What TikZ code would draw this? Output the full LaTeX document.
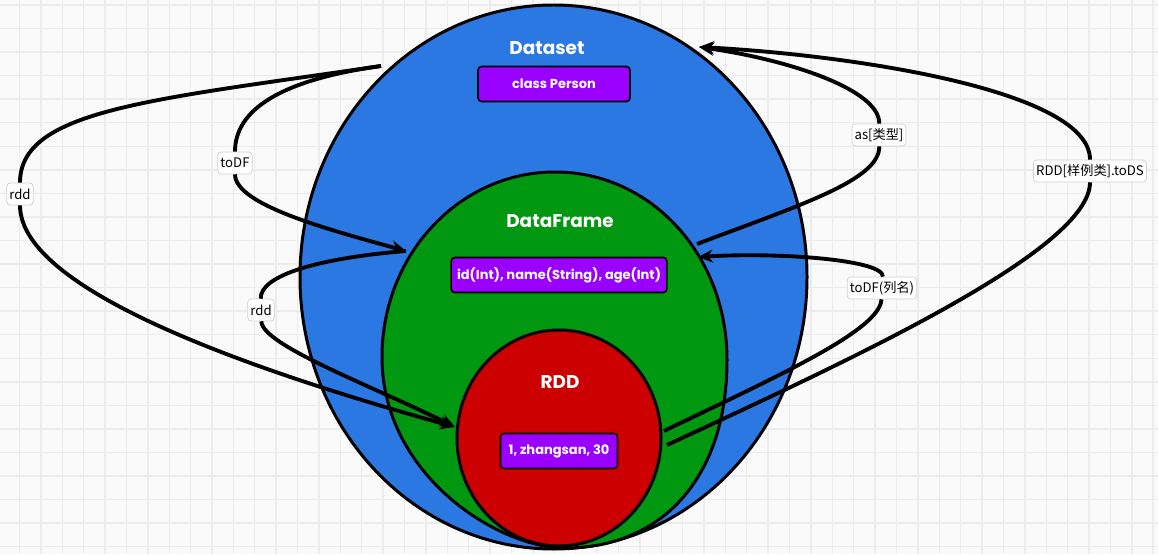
\documentclass[tikz,border=0pt]{standalone}
\usepackage{fontspec}
\usepackage{tikz}
\usetikzlibrary{arrows.meta}
\newfontfamily\popfont{Poppins}
\newfontfamily\cjkfont{Noto Sans CJK SC}
\definecolor{dsblue}{RGB}{44,120,226}
\definecolor{dfgreen}{RGB}{0,152,16}
\definecolor{rddred}{RGB}{204,0,0}
\definecolor{boxpurple}{RGB}{153,0,255}
\definecolor{gridgray}{RGB}{236,236,236}
\definecolor{paper}{RGB}{250,250,250}

\begin{document}
\begin{tikzpicture}[x=0.02cm,y=-0.02cm,
    gridline/.style={gridgray,line width=0.8pt},
    set/.style={draw=black,line width=1.7pt},
    title/.style={text=white,font=\popfont\bfseries\fontsize{10.5}{12}\selectfont},
    field/.style={draw=black,line width=0.9pt,fill=boxpurple,rounded corners=2pt,text=white,minimum height=0.7cm,font=\popfont\bfseries\fontsize{7.4}{9}\selectfont},
    conv/.style={line width=2.2pt,-{Stealth[length=8.5pt,width=7.5pt]}},
    conv label/.style={draw=black!18,fill=white,rounded corners=2pt,inner xsep=1.5pt,inner ysep=0pt,minimum height=0.44cm,font=\cjkfont\fontsize{7.5}{9}\selectfont}]
    \useasboundingbox (0,0) rectangle (1158,554);
    \fill[paper] (0,0) rectangle (1158,554);
    % grid
    \foreach \k in {0,...,53}
        \draw[gridline] (19.5+21.39*\k,0) -- (19.5+21.39*\k,554);
    \foreach \k in {0,...,23}
        \draw[gridline] (0,5+23.55*\k) -- (1158,5+23.55*\k);
    % the three sets
    \filldraw[set,fill=dsblue] (553.5,277) ellipse [x radius=253.5,y radius=272];
    \filldraw[set,fill=dfgreen] (555,172) .. controls (459,172) and (382,255) .. (382,357)
        .. controls (382,475) and (498,548) .. (565,548)
        .. controls (660,548) and (727,480) .. (727,360)
        .. controls (727,255) and (651,172) .. cycle;
    \filldraw[set,fill=rddred] (559,438) ellipse [x radius=102,y radius=108];
    \node[title] (dsT) at (547,48) {Dataset};
    \node[field,minimum width=3.04cm] (dsF) at (554,84) {class Person};
    \node[title] (dfT) at (560,221) {DataFrame};
    \node[field,minimum width=4.14cm] (dfF) at (559,275) {id(Int), name(String), age(Int)};
    \node[title] (rddT) at (560,382) {RDD};
    \node[field,minimum width=2.34cm] (rddF) at (559,451) {1, zhangsan, 30};
    % ends of the conversions
    \coordinate (dsL) at (381,66);
    \coordinate (dfL) at (406,251);
    \coordinate (rddL) at (455,427);
    \coordinate (dsR) at (699,47);
    \coordinate (dfR) at (697,244);
    \coordinate (dfR2) at (698,257);
    \coordinate (rddR) at (664,431);
    \coordinate (rddR2) at (667,445);
    % labels
    \node[conv label] (rddOut) at (20,194) {rdd};
    \node[conv label] (toDF) at (235,163) {toDF};
    \node[conv label] (rddIn) at (261,310) {rdd};
    \node[conv label] (asT) at (879,135) {as[类型]};
    \node[conv label] (toDS) at (1090,171) {RDD[样例类].toDS};
    \node[conv label] (toDFn) at (882,288) {toDF(列名)};
    % conversions
    \draw[conv] (dsL) .. controls (150,100) and (20,110) .. (rddOut)
        (rddOut) .. controls (20,290) and (250,370) .. (rddL);
    \draw[conv] (dsL) .. controls (280,80) and (235,110) .. (toDF)
        (toDF) .. controls (235,205) and (330,230) .. (dfL);
    \draw[conv] (dfL) .. controls (320,258) and (260,275) .. (rddIn)
        (rddIn) .. controls (262,345) and (370,385) .. (rddL);
    \draw[conv] (dfR) .. controls (800,205) and (880,180) .. (asT)
        (asT) .. controls (880,90) and (790,60) .. (dsR);
    \draw[conv] (rddR2) .. controls (850,360) and (1090,250) .. (toDS)
        (toDS) .. controls (1090,90) and (850,55) .. (dsR);
    \draw[conv] (rddR) .. controls (780,375) and (880,330) .. (toDFn)
        (toDFn) .. controls (884,260) and (780,252) .. (dfR2);
\end{tikzpicture}
\end{document}
